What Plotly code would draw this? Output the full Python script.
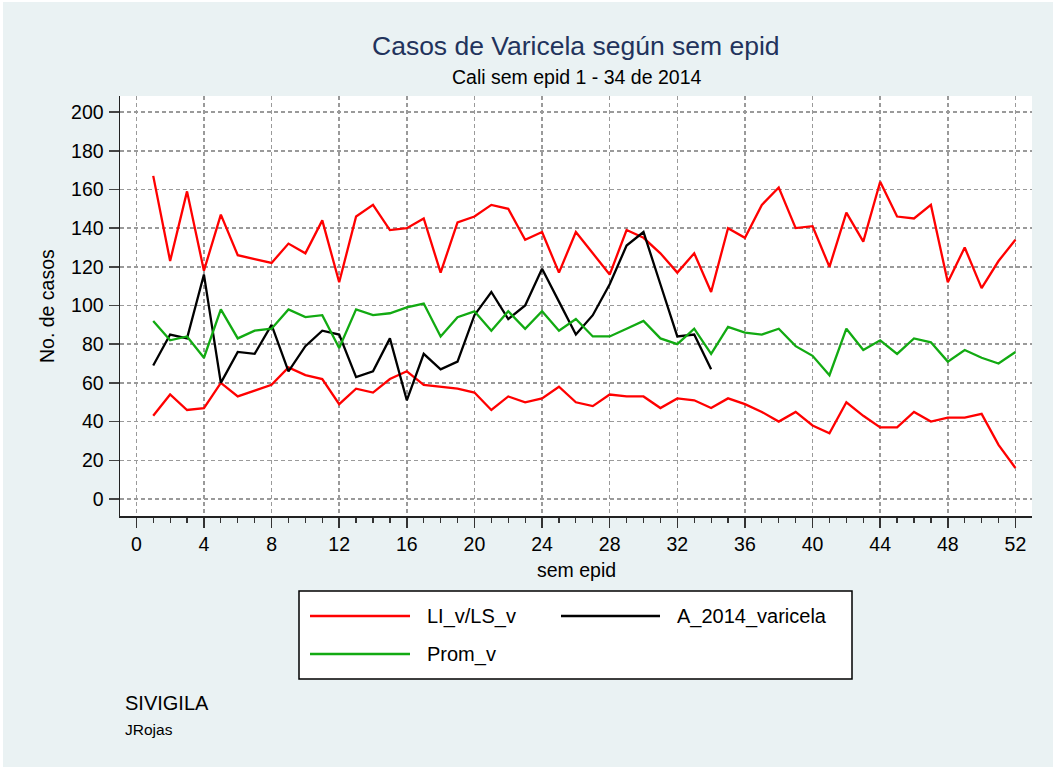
import plotly.graph_objects as go

# ---------------- data ----------------
weeks = list(range(1, 53))
ls_v = [167, 123, 159, 118, 147, 126, 124, 122, 132, 127, 144, 112, 146, 152, 139, 140,
        145, 117, 143, 146, 152, 150, 134, 138, 117, 138, 127, 116, 139, 135, 127, 117,
        127, 107, 140, 135, 152, 161, 140, 141, 120, 148, 133, 164, 146, 145, 152, 112,
        130, 109, 123, 134]
li_v = [43, 54, 46, 47, 60, 53, 56, 59, 68, 64, 62, 49, 57, 55, 62, 66,
        59, 58, 57, 55, 46, 53, 50, 52, 58, 50, 48, 54, 53, 53, 47, 52,
        51, 47, 52, 49, 45, 40, 45, 38, 34, 50, 43, 37, 37, 45, 40, 42,
        42, 44, 28, 16]
prom_v = [92, 82, 84, 73, 98, 83, 87, 88, 98, 94, 95, 78, 98, 95, 96, 99,
          101, 84, 94, 97, 87, 97, 88, 97, 87, 93, 84, 84, 88, 92, 83, 80,
          88, 75, 89, 86, 85, 88, 79, 74, 64, 88, 77, 82, 75, 83, 81, 71,
          77, 73, 70, 76]
weeks_2014 = list(range(1, 35))
a_2014_varicela = [69, 85, 83, 116, 60, 76, 75, 90, 66, 79, 87, 85, 63, 66, 83, 51,
                   75, 67, 71, 95, 107, 93, 100, 119, 102, 85, 95, 111, 131, 138, 111, 84,
                   85, 67]
x_tick_vals = list(range(0, 53, 4))
x_minor_vals = list(range(0, 53))
y_tick_vals = list(range(0, 201, 20))

title_text = "Casos de Varicela según sem epid"
subtitle_text = "Cali sem epid 1 - 34 de 2014"
x_title = "sem epid"
y_title = "No. de casos"
legend_labels = ["LI_v/LS_v", "A_2014_varicela", "Prom_v"]
note_text = "SIVIGILA"
caption_text = "JRojas"

# ---------------- styling ----------------
FONT = "Liberation Sans, Arial, Helvetica, sans-serif"
RED = "#FF0000"
BLACK = "#000000"
GREEN = "#12AA12"
NAVY = "#22335C"
BG = "#EAF2F3"
GRID = "#9A9A9A"
AXIS = "#222222"

W, H = 1053, 769
L, R, T, B = 120, 1032, 96, 516


def fx(px):
    return (px - L) / (R - L)


def fy(py):
    return (B - py) / (B - T)


fig = go.Figure()
line_w = 2.3
fig.add_trace(go.Scatter(x=weeks, y=li_v, mode="lines", name="LI_v",
                         line=dict(color=RED, width=line_w), showlegend=False))
fig.add_trace(go.Scatter(x=weeks, y=ls_v, mode="lines", name="LS_v",
                         line=dict(color=RED, width=line_w), showlegend=False))
fig.add_trace(go.Scatter(x=weeks_2014, y=a_2014_varicela, mode="lines", name="A_2014_varicela",
                         line=dict(color=BLACK, width=line_w), showlegend=False))
fig.add_trace(go.Scatter(x=weeks, y=prom_v, mode="lines", name="Prom_v",
                         line=dict(color=GREEN, width=line_w), showlegend=False))

tickfont = dict(family=FONT, size=19.5, color="#000000")

fig.update_xaxes(
    range=[-0.965, 52.98], tickmode="array", tickvals=x_tick_vals,
    ticks="outside", ticklen=10, tickwidth=1.5, tickcolor="#333333",
    showline=True, linecolor=AXIS, linewidth=1.5,
    showgrid=True, gridcolor=GRID, gridwidth=1.5, griddash="4px,3px",
    zeroline=False, tickfont=tickfont, ticklabelstandoff=0,
    minor=dict(tickmode="array", tickvals=x_minor_vals, ticks="outside",
               ticklen=5, tickwidth=1.2, tickcolor="#333333", showgrid=False),
)
fig.update_yaxes(
    range=[-8.8, 208.3], tickmode="array", tickvals=y_tick_vals,
    ticks="outside", ticklen=10, tickwidth=1.5, tickcolor="#444444",
    showline=True, linecolor=AXIS, linewidth=1.5,
    showgrid=True, gridcolor=GRID, gridwidth=1.5, griddash="4px,3px",
    zeroline=False, tickfont=tickfont, ticklabelstandoff=1,
)

shapes = [
    # graph region background (with thin white border around it)
    dict(type="rect", xref="paper", yref="paper", layer="below",
         x0=fx(3), x1=fx(1053), y0=fy(767), y1=fy(2),
         fillcolor=BG, line=dict(width=0)),
    # plot region
    dict(type="rect", xref="paper", yref="paper", layer="below",
         x0=0, x1=1, y0=0, y1=1, fillcolor="#FFFFFF", line=dict(width=0)),
    # legend box
    dict(type="rect", xref="paper", yref="paper",
         x0=fx(299), x1=fx(852), y0=fy(679), y1=fy(591),
         fillcolor="#FFFFFF", line=dict(color="#000000", width=1.5)),
    # legend keys
    dict(type="line", xref="paper", yref="paper",
         x0=fx(310), x1=fx(410), y0=fy(616), y1=fy(616), line=dict(color=RED, width=2.3)),
    dict(type="line", xref="paper", yref="paper",
         x0=fx(561), x1=fx(660), y0=fy(616), y1=fy(616), line=dict(color=BLACK, width=2.3)),
    dict(type="line", xref="paper", yref="paper",
         x0=fx(310), x1=fx(410), y0=fy(654), y1=fy(654), line=dict(color=GREEN, width=2.3)),
]


def ann(text, x, y, size, color="#000000", xanchor="center", angle=0):
    return dict(text=text, x=x, y=y, xref="paper", yref="paper", showarrow=False,
                xanchor=xanchor, yanchor="middle", textangle=angle,
                font=dict(family=FONT, size=size, color=color))


annotations = [
    ann(title_text, fx(576), fy(46), 26.5, NAVY),
    ann(subtitle_text, fx(576), fy(77), 19.5),
    ann(y_title, fx(47), fy(306), 19.5, angle=-90),
    ann(x_title, fx(576), fy(570), 19.5),
    ann(legend_labels[0], fx(425), fy(616), 20, xanchor="left"),
    ann(legend_labels[1], fx(675), fy(616), 20, xanchor="left"),
    ann(legend_labels[2], fx(425), fy(654), 20, xanchor="left"),
    ann(note_text, fx(123), fy(703), 20, xanchor="left"),
    ann(caption_text, fx(123), fy(729), 15.5, xanchor="left"),
]

fig.update_layout(
    width=W, height=H,
    margin=dict(l=L, r=W - R, t=T, b=H - B, pad=0),
    paper_bgcolor="#FFFFFF", plot_bgcolor="#FFFFFF",
    font=dict(family=FONT, size=19.5, color="#000000"),
    showlegend=False,
    shapes=shapes, annotations=annotations,
    hovermode=False,
)

fig.write_html(
    "out.html",
    config={"displayModeBar": False, "staticPlot": True},
    post_script="document.body.style.margin='0';document.body.style.overflow='hidden';",
)
